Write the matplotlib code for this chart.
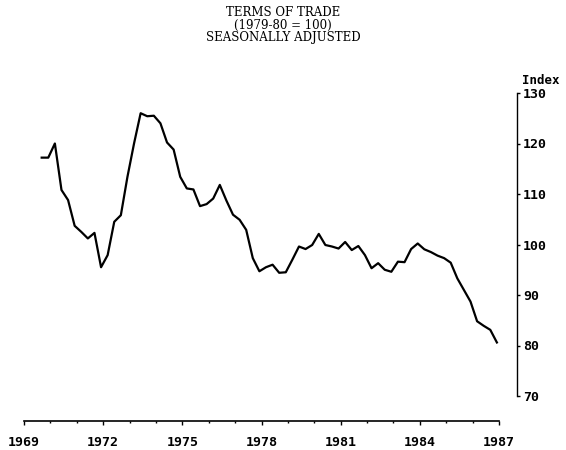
import matplotlib
matplotlib.use("Agg")
import matplotlib.pyplot as plt
from matplotlib.ticker import MultipleLocator
import numpy as np

# quarterly terms of trade index, 1979-80 = 100, seasonally adjusted
start_year = 1969.67
index_values = [
    117.2, 117.2, 120.0, 110.8, 108.8, 103.7, 102.5, 101.2, 102.3, 95.5,
    97.9, 104.5, 105.8, 113.4, 120.0, 126.0, 125.4, 125.5, 124.0, 120.2,
    118.8, 113.4, 111.1, 110.9, 107.6, 108.0, 109.1, 111.8, 108.7, 105.9,
    104.9, 102.9, 97.3, 94.7, 95.5, 96.0, 94.4, 94.5, 97.0, 99.6,
    99.1, 99.9, 102.1, 99.9, 99.6, 99.2, 100.5, 98.9, 99.7, 97.9,
    95.3, 96.3, 95.0, 94.6, 96.6, 96.5, 99.1, 100.2, 99.05, 98.5,
    97.8, 97.3, 96.4, 93.3, 91.0, 88.7, 84.8, 83.9, 83.1, 80.6,
]
quarters = start_year + 0.25 * np.arange(len(index_values))

year_ticks = [1969, 1972, 1975, 1978, 1981, 1984, 1987]
index_ticks = [70, 80, 90, 100, 110, 120, 130]

title_lines = ["TERMS OF TRADE", "(1979-80 = 100)", "SEASONALLY ADJUSTED"]

W, H = 566, 450
fig = plt.figure(figsize=(W / 100, H / 100), dpi=100)
ax = fig.add_axes([24 / W, (H - 396) / H, 475 / W, 303 / H])

ax.plot(quarters, index_values, color="black", linewidth=1.6)

ax.set_xlim(1969, 1987)
ax.set_ylim(70, 130)

# detached axes: x axis ~25px below the plot, y axis ~18px right of it
ax.spines["left"].set_visible(False)
ax.spines["top"].set_visible(False)
ax.spines["bottom"].set_position(("outward", 18))
ax.spines["right"].set_position(("outward", 12.7))
ax.spines["bottom"].set_linewidth(1.2)
ax.spines["right"].set_linewidth(1.0)

tick_font = dict(family="DejaVu Sans Mono", weight="bold", size=9.5)

ax.set_xticks(year_ticks)
ax.set_xticklabels([str(y) for y in year_ticks], **tick_font)
ax.xaxis.set_minor_locator(MultipleLocator(1))
ax.tick_params(axis="x", which="major", direction="out", length=3, width=1, pad=7.5)
ax.tick_params(axis="x", which="minor", direction="out", length=1.5, width=1)

ax.yaxis.tick_right()
ax.set_yticks(index_ticks)
ax.set_yticklabels([str(v) for v in index_ticks], **tick_font)
ax.tick_params(axis="y", which="major", direction="out", length=2, width=1, pad=2.5)

fig.text(522 / W, 1 - 80 / H, "Index", ha="left", va="center",
         family="DejaVu Sans Mono", weight="bold", size=9)

for i, line in enumerate(title_lines):
    fig.text(283 / W, 1 - (13 + 12.3 * i) / H, line, ha="center", va="center",
             family="DejaVu Serif", fontsize=8.5)

fig.savefig("out.png", dpi=100)
